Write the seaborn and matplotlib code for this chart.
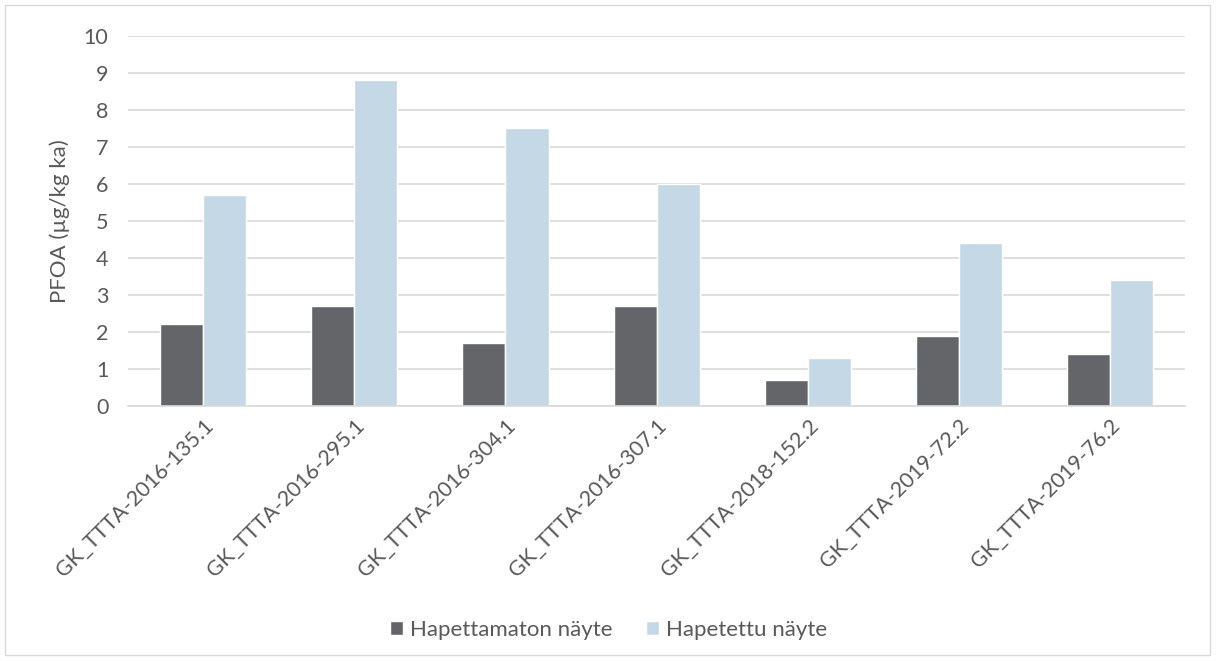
import matplotlib
matplotlib.use("Agg")
import matplotlib.pyplot as plt
import seaborn as sns
import pandas as pd
from matplotlib.patches import Rectangle

categories = ["GK_TTTA-2016-135.1", "GK_TTTA-2016-295.1", "GK_TTTA-2016-304.1",
              "GK_TTTA-2016-307.1", "GK_TTTA-2018-152.2", "GK_TTTA-2019-72.2",
              "GK_TTTA-2019-76.2"]
series_names = ["Hapettamaton näyte", "Hapetettu näyte"]
unoxidized = [2.2, 2.7, 1.7, 2.7, 0.7, 1.9, 1.4]
oxidized = [5.7, 8.8, 7.5, 6.0, 1.3, 4.4, 3.4]
yticks = list(range(0, 11))
ylabel = "PFOA (µg/kg ka)"

df = pd.DataFrame({
    "cat": categories * 2,
    "series": [series_names[0]] * len(categories) + [series_names[1]] * len(categories),
    "val": unoxidized + oxidized,
})

sns.set_theme(style="white")
plt.rcParams["font.family"] = ["Lato", "DejaVu Sans"]
text_color = "#595959"

fig = plt.figure(figsize=(12.17, 6.61), dpi=100)
ax = fig.add_axes([0.105, 0.386, 0.869, 0.5595])
sns.barplot(data=df, x="cat", y="val", hue="series", order=categories,
            hue_order=series_names, palette=["#636569", "#C5D8E5"],
            width=0.57, gap=0, ax=ax, legend=True, saturation=1)
ax.set_ylim(0, 10)
ax.set_yticks(yticks)
ax.set_xlim(-0.5, len(categories) - 0.5)
ax.yaxis.grid(True, color="#D9D9D9", linewidth=1.2)
ax.set_axisbelow(True)
for s in ["top", "right", "left"]:
    ax.spines[s].set_visible(False)
ax.spines["bottom"].set_color("#D9D9D9")
ax.spines["bottom"].set_linewidth(1.2)
ax.tick_params(axis="x", length=0, labelsize=15.5, colors=text_color, pad=7)
ax.tick_params(axis="y", length=0, labelsize=15.5, colors=text_color, pad=14)
plt.setp(ax.get_xticklabels(), rotation=45, ha="right", rotation_mode="anchor")
ax.set_xlabel("")
ax.set_ylabel(ylabel, fontsize=16, color=text_color, labelpad=10)

handles, labels = ax.get_legend_handles_labels()
ax.get_legend().remove()
fig.legend(handles, labels, loc="center", bbox_to_anchor=(0.5, 1 - 630 / 661),
           ncol=2, frameon=False, fontsize=16, labelcolor=text_color,
           handlelength=0.6, handleheight=0.6, handletextpad=0.3, columnspacing=1.5)

fig.patches.append(Rectangle((5 / 1217, 6 / 661), 1205 / 1217, 650 / 661,
                             transform=fig.transFigure, fill=False,
                             edgecolor="#D9D9D9", linewidth=1))
fig.savefig("out.png", dpi=100)
